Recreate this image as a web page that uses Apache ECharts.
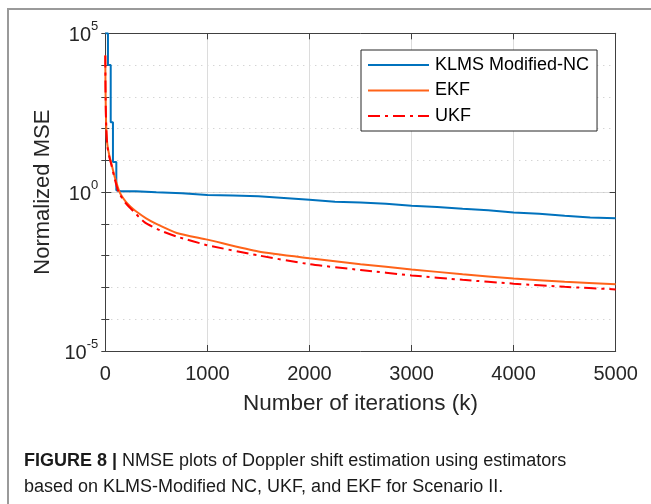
<!DOCTYPE html>
<html>
<head>
<meta charset="utf-8">
<script src="https://cdn.jsdelivr.net/npm/echarts@6/dist/echarts.min.js"></script>
<style>html,body{margin:0;padding:0;background:#fff;}#c{width:651px;height:504px;}</style>
</head>
<body>
<div id="c"></div>
<script>
// ---- data ----
const seriesNames = ['KLMS Modified-NC', 'EKF', 'UKF'];
const xTicks = [0, 1000, 2000, 3000, 4000, 5000];
const yTickExponents = [-5, 0, 5];

const klmsIter = [0, 26, 26, 53, 53, 75, 75, 108, 108, 150, 300, 500, 750, 1000, 1250, 1500, 1750, 2000, 2250, 2500, 2750, 3000, 3250, 3500, 3750, 4000, 4250, 4500, 4750, 5000];
const klmsMse  = [1e5, 1e5, 1.0e4, 1.0e4, 158, 158, 8.9, 8.9, 1.15, 1.07, 1.07, 1.0, 0.93, 0.81, 0.79, 0.74, 0.66, 0.575, 0.50, 0.47, 0.43, 0.37, 0.34, 0.30, 0.27, 0.23, 0.21, 0.18, 0.16, 0.15];

const ekfIter = [0, 2, 5, 10, 20, 40, 60, 90, 140, 200, 250, 300, 400, 500, 700, 1000, 1500, 2000, 2500, 3000, 3500, 4000, 4500, 5000];
const ekfMse  = [2.0e4, 2000, 400, 93, 32, 14, 7.9, 3.2, 1.0, 0.5, 0.34, 0.25, 0.15, 0.10, 0.052, 0.032, 0.0135, 0.0083, 0.0054, 0.0037, 0.0026, 0.0019, 0.0015, 0.00126];

const ukfIter = [0, 2, 5, 10, 20, 40, 60, 90, 130, 200, 275, 386, 535, 700, 1000, 1500, 2000, 2500, 3000, 3500, 4000, 4500, 5000];
const ukfMse  = [2.0e4, 2000, 400, 93, 28, 12.6, 7.1, 2.8, 1.0, 0.45, 0.25, 0.112, 0.063, 0.040, 0.0214, 0.0102, 0.0054, 0.00355, 0.0024, 0.00174, 0.00132, 0.00105, 0.00087];

const xName = 'Number of iterations (k)';
const yName = 'Normalized MSE';
const captionBold = 'FIGURE 8 |';
const captionLine1 = ' NMSE plots of Doppler shift estimation using estimators';
const captionLine2 = 'based on KLMS-Modified NC, UKF, and EKF for Scenario II.';

// ---- chart ----
const FONT = 'Liberation Sans';
const AX = '#404040';
const pairs = (xs, ys) => xs.map((x, i) => [x, ys[i]]);

const chart = echarts.init(document.getElementById('c'), null, {renderer: 'canvas'});

const baseLog = {
  type: 'log', logBase: 10, min: 1e-5, max: 1e5,
  axisLine: {show: true, lineStyle: {color: AX, width: 1}},
  axisLabel: {show: false},
  splitLine: {show: false}
};

chart.setOption({
  animation: false,
  backgroundColor: '#fff',
  textStyle: {fontFamily: FONT},
  grid: {left: 105.3, right: 35.3, top: 33.3, bottom: 153, containLabel: false},
  legend: {
    data: seriesNames,
    orient: 'vertical',
    left: 361, top: 50,
    padding: [5, 8, 5, 6],
    itemWidth: 61, itemHeight: 12, itemGap: 5.5,
    backgroundColor: '#fff',
    borderColor: '#262626', borderWidth: 1,
    itemStyle: {opacity: 0},
    textStyle: {fontFamily: FONT, fontSize: 18, color: '#000', lineHeight: 20, padding: [0, 0, 0, 1]}
  },
  xAxis: [
    {
      type: 'value', min: xTicks[0], max: xTicks[xTicks.length - 1], interval: 1000,
      position: 'bottom',
      axisLine: {show: true, onZero: false, lineStyle: {color: AX, width: 1}},
      axisTick: {show: true, inside: true, length: 6, lineStyle: {color: AX}},
      axisLabel: {fontFamily: FONT, fontSize: 20, color: '#262626', margin: 13, formatter: v => String(v)},
      splitLine: {show: true, lineStyle: {color: '#dcdcdc', width: 1}},
      name: xName, nameLocation: 'middle', nameGap: 41,
      nameTextStyle: {fontFamily: FONT, fontSize: 22.5, color: '#262626'}
    },
    {
      type: 'value', min: 0, max: 5000, interval: 1000, position: 'top',
      axisLine: {show: true, onZero: false, lineStyle: {color: AX, width: 1}},
      axisTick: {show: true, inside: true, length: 6, lineStyle: {color: AX}},
      axisLabel: {show: false}, splitLine: {show: false}
    }
  ],
  yAxis: [
    Object.assign({}, baseLog, {
      position: 'left', interval: 5,
      axisTick: {show: true, inside: true, length: 6, lineStyle: {color: AX}},
      axisLabel: {
        show: true, margin: 7, color: '#262626',
        formatter: v => '{b|10}{s|' + Math.round(Math.log10(v)) + '}',
        rich: {
          b: {fontFamily: FONT, fontSize: 20, color: '#262626', padding: [6, 0, 1, 0]},
          s: {fontFamily: FONT, fontSize: 13, color: '#262626', padding: [0, 0, 14, 0]}
        }
      },
      splitLine: {show: true, lineStyle: {color: '#dcdcdc', width: 1}},
      name: yName, nameLocation: 'middle', nameGap: 51,
      nameTextStyle: {fontFamily: FONT, fontSize: 22, color: '#262626'}
    }),
    Object.assign({}, baseLog, {
      position: 'right', interval: 1,
      axisTick: {show: true, inside: true, length: 4, lineStyle: {color: AX}},
      splitLine: {show: true, lineStyle: {color: '#c4c4c4', width: 1, type: [1, 5]}}
    }),
    Object.assign({}, baseLog, {
      position: 'left', interval: 1,
      axisTick: {show: true, inside: true, length: 4, lineStyle: {color: AX}}
    }),
    Object.assign({}, baseLog, {
      position: 'right', interval: 5,
      axisTick: {show: true, inside: true, length: 6, lineStyle: {color: AX}}
    })
  ],
  series: [
    {
      name: seriesNames[0], type: 'line', data: pairs(klmsIter, klmsMse),
      showSymbol: false, symbol: 'none', z: 3,
      lineStyle: {color: '#0072BD', width: 2}, itemStyle: {color: '#0072BD'}
    },
    {
      name: seriesNames[1], type: 'line', data: pairs(ekfIter, ekfMse),
      showSymbol: false, symbol: 'none', z: 4, smooth: 0.2,
      lineStyle: {color: '#FF6319', width: 2}, itemStyle: {color: '#FF6319'}
    },
    {
      name: seriesNames[2], type: 'line', data: pairs(ukfIter, ukfMse),
      showSymbol: false, symbol: 'none', z: 5, smooth: 0.2,
      lineStyle: {color: '#FF0000', width: 2, type: [12, 5, 3, 5]}, itemStyle: {color: '#FF0000'}
    }
  ],
  graphic: [
    {type: 'rect', shape: {x: 8, y: 9, width: 720, height: 620}, style: {fill: 'none', stroke: '#9a9a9a', lineWidth: 2}, silent: true, z: -1},
    {
      type: 'text', x: 24, y: 461,
      style: {
        text: '{b|' + captionBold + '}{r|' + captionLine1 + '}',
        verticalAlign: 'middle',
        rich: {
          b: {fontFamily: FONT, fontSize: 18, fontWeight: 'bold', fill: '#1a1a1a'},
          r: {fontFamily: FONT, fontSize: 18, fill: '#1a1a1a'}
        }
      }
    },
    {
      type: 'text', x: 24, y: 487,
      style: {text: captionLine2, font: '18px "Liberation Sans"', fill: '#1a1a1a', verticalAlign: 'middle'}
    }
  ]
});
</script>
</body>
</html>
